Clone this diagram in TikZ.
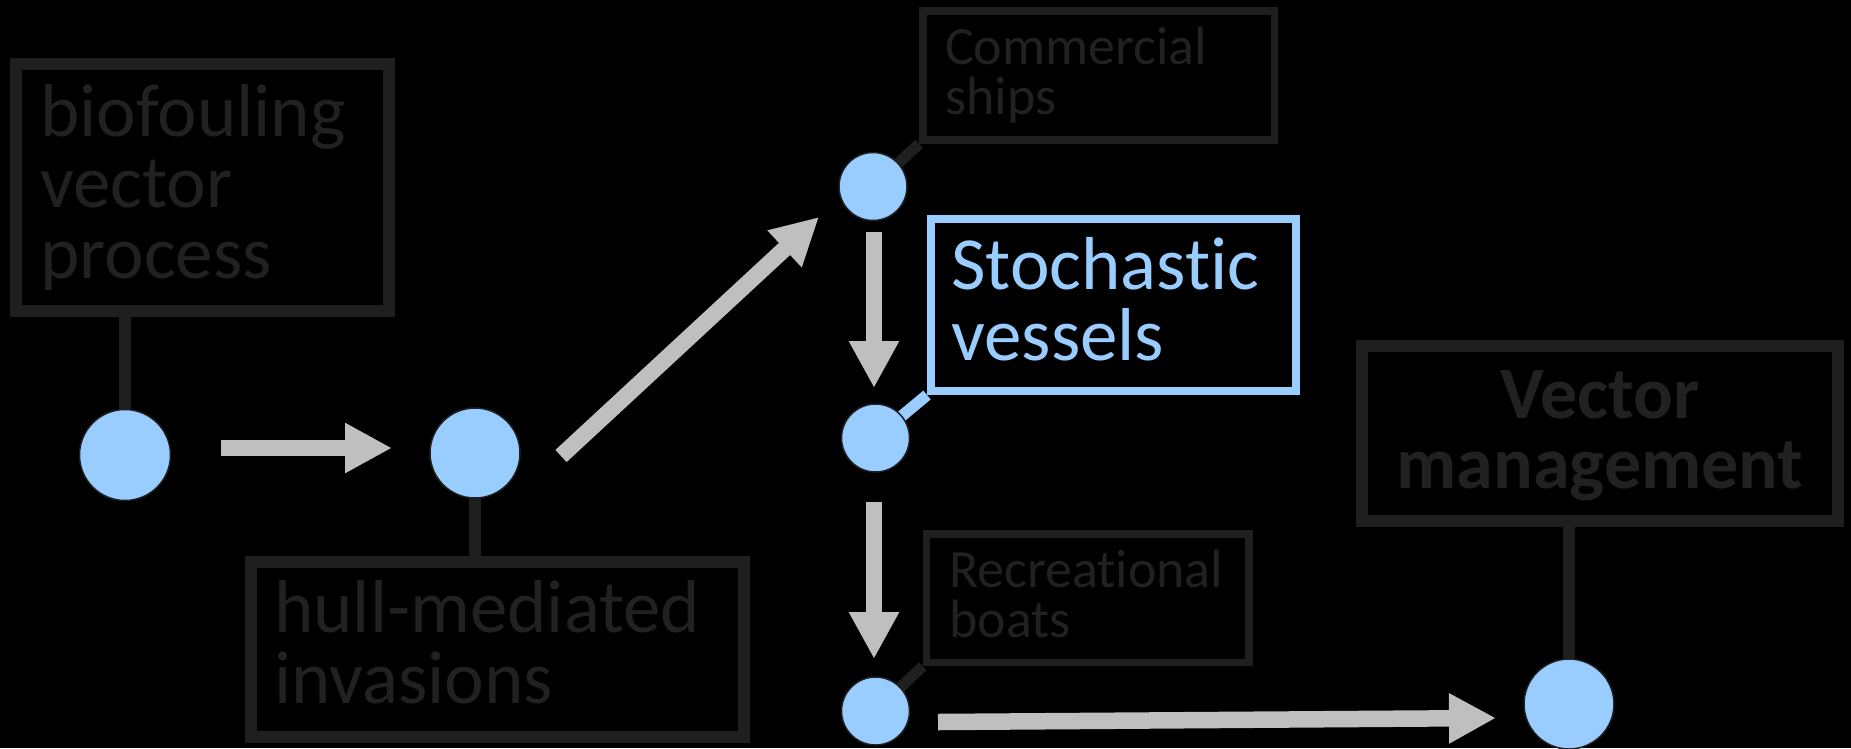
\documentclass[tikz,border=0pt]{standalone}
\usepackage{fontspec}
\setmainfont{Carlito}[Ligatures={NoCommon,NoContextual,NoRare}, Contextuals=NoAlternate]
\usetikzlibrary{arrows.meta,calc}
\definecolor{boxgray}{HTML}{1F1F1F}
\definecolor{txtgray}{HTML}{212121}
\definecolor{flowgray}{HTML}{BFBFBF}
\definecolor{nodeblue}{HTML}{99CCFF}
\pgfdeclarelayer{background}
\pgfsetlayers{background,main}
\tikzset{
  stage/.style={circle, fill=nodeblue, draw=boxgray, line width=1.5pt, inner sep=0pt, minimum size=#1},
  frame/.style={rectangle, draw=#1, inner sep=0pt},
  frame/.default=boxgray,
  biglabel/.style={anchor=base west, inner sep=0pt, text=txtgray, font=\fontsize{75}{71}\selectfont},
  smalllabel/.style={anchor=base west, inner sep=0pt, text=txtgray, font=\fontsize{54}{50}\selectfont},
  stub/.style={draw=boxgray, line width=12pt},
  flow/.style={draw=flowgray, line width=16.5pt, -{Triangle[length=47pt,width=47pt]}}
}
\begin{document}
\begin{tikzpicture}[x=1pt, y=-1pt]
\useasboundingbox (0,0) rectangle (1851,748);

% stages of the vector process
\node[stage=91pt] (c1) at (125,455) {};
\node[stage=90pt] (c2) at (475,453) {};
\node[stage=68pt] (cc) at (873,186.5) {};
\node[stage=68pt] (sc) at (875.5,438) {};
\node[stage=68pt] (rc) at (875.5,711) {};
\node[stage=90pt] (vm) at (1569,704) {};

% label frames
\node[frame, line width=12pt, minimum width=373pt, minimum height=247pt] (b1) at (202.5,187.5) {};
\node[frame, line width=12pt, minimum width=493pt, minimum height=175pt] (b2) at (497.5,649.5) {};
\node[frame, line width=7.5pt, minimum width=351.5pt, minimum height=129pt] (cb) at (1098.75,75.5) {};
\node[frame=nodeblue, line width=8pt, minimum width=365pt, minimum height=172pt] (sb) at (1113.5,305) {};
\node[frame, line width=7.5pt, minimum width=322.5pt, minimum height=128.5pt] (rb) at (1087.75,598.25) {};
\node[frame, line width=12pt, minimum width=476.5pt, minimum height=175pt] (vb) at (1599.75,433.5) {};

% label texts
\node[biglabel] (t1) at (40,136) {\parbox[t]{340pt}{biofouling\\vector\\process}};
\node[biglabel] (t2) at (274,632) {\parbox[t]{460pt}{hull-mediated\\invasions}};
\node[smalllabel] (tc) at (945,64) {\parbox[t]{320pt}{Commercial\\ships}};
\node[biglabel, text=nodeblue] (ts) at (951,289) {\parbox[t]{340pt}{Stochast\kern0pt ic\\vessels}};
\node[smalllabel] (tr) at (949,587) {\parbox[t]{300pt}{Recreat\kern0pt ional\\boats}};
\node[anchor=base, inner sep=0pt, text=txtgray, font=\fontsize{74}{70}\selectfont\bfseries] (tv) at (1600,418)
  {\parbox[t]{460pt}{\centering Vector\\management}};

% leader lines behind the stages
\begin{pgfonlayer}{background}
  \fill[black] (0,0) rectangle (1851,748);
  \draw[stub] (c1.center) -- (c1.center |- b1.south);
  \draw[stub] (c2.center) -- (c2.center |- b2.north);
  \draw[stub, line width=11pt] (cc.center) -- (cb.south west);
  \draw[stub, draw=nodeblue, line width=11.5pt] (sc.center) -- (sb.south west);
  \draw[stub, line width=11pt] (rc.center) -- (rb.south west);
  \draw[stub] (vm.center) -- (vm.center |- vb.south);
\end{pgfonlayer}

% flow arrows between stages
\draw[flow] ($(c1)+(96,-7)$) -- ($(c2)+(-83,-5)$);
\draw[flow] ($(c2)+(86,3)$) -- ($(cc)+(-54,30.5)$);
\draw[flow] ($(cc)+(1,45.5)$) -- ($(sc)+(-1.5,-50)$);
\draw[flow] ($(sc)+(-1.5,64)$) -- ($(rc)+(-1.5,-52)$);
\draw[flow] ($(rc)+(62.5,11)$) -- ($(vm)+(-73,14)$);
\end{tikzpicture}
\end{document}
